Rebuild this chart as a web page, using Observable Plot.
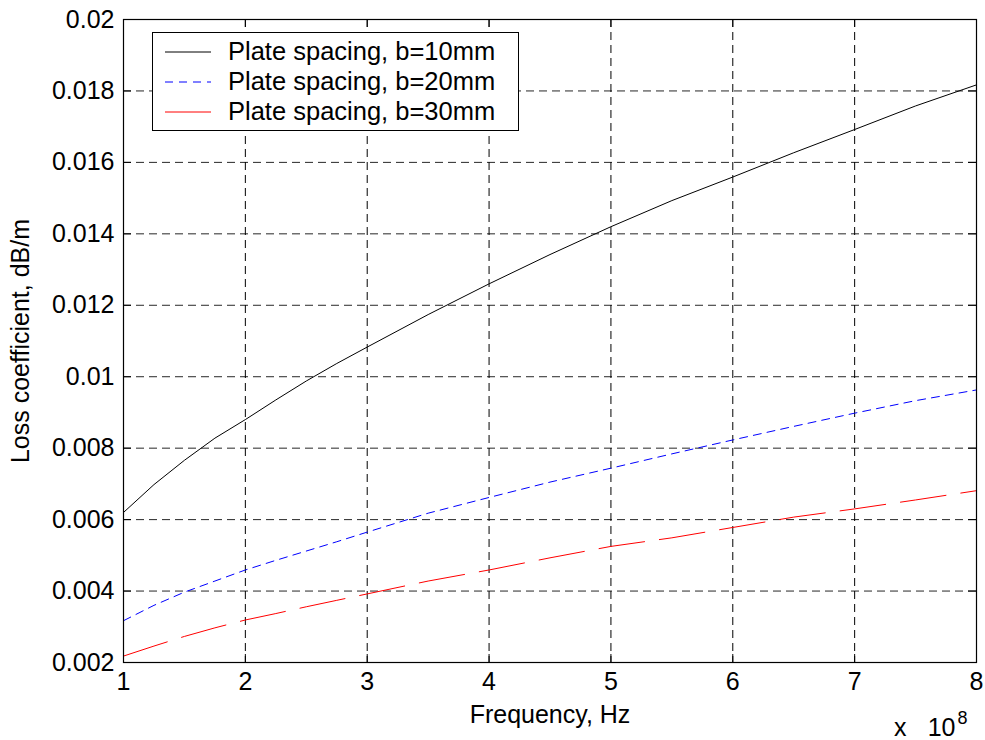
<!DOCTYPE html>
<html>
<head>
<meta charset="utf-8">
<script src="https://cdn.jsdelivr.net/npm/d3@7"></script>
<script src="https://cdn.jsdelivr.net/npm/@observablehq/plot@0.6"></script>
<style>
  html, body { margin: 0; padding: 0; background: #fff; }
  #wrap { position: relative; width: 985px; height: 740px; font-family: "Liberation Sans", Arial, sans-serif; }
  #legend { position: absolute; left: 152px; top: 32px; width: 365px; height: 97px; border: 1.5px solid #000; background: #fff; }
</style>
</head>
<body>
<div id="wrap"></div>
<script>
// Frequency (Hz, in units of 1e8)
const freq = [1, 1.25, 1.5, 1.75, 2, 2.25, 2.5, 2.75, 3, 3.5, 4, 4.5, 5, 5.5, 6, 6.5, 7, 7.5, 8];
// Loss coefficient, dB/m
const b10 = [0.0062, 0.00698, 0.00766, 0.00828, 0.0088, 0.00935, 0.00988, 0.01037, 0.01083, 0.01174, 0.0126, 0.01342, 0.0142, 0.01493, 0.01559, 0.01627, 0.01692, 0.01758, 0.01817];
const b20 = [0.00317, 0.0036, 0.00397, 0.00428, 0.00459, 0.00486, 0.00512, 0.00538, 0.00565, 0.00618, 0.00662, 0.00705, 0.00744, 0.00784, 0.00823, 0.00861, 0.00898, 0.00933, 0.00963];
const b30 = [0.00218, 0.00246, 0.00273, 0.00297, 0.00319, 0.00337, 0.00356, 0.00374, 0.00392, 0.00428, 0.00459, 0.00493, 0.00525, 0.00549, 0.00578, 0.00607, 0.0063, 0.00655, 0.00681];
const seriesNames = ["Plate spacing, b=10mm", "Plate spacing, b=20mm", "Plate spacing, b=30mm"];
const seriesColors = ["#000000", "#0000ff", "#ff0000"];
const seriesDash = [null, "8,6", "46,15"];
const xTicks = [1, 2, 3, 4, 5, 6, 7, 8];
const yTicks = [0.002, 0.004, 0.006, 0.008, 0.01, 0.012, 0.014, 0.016, 0.018, 0.02];
const xLabel = "Frequency, Hz";
const yLabel = "Loss coefficient, dB/m";
const exponentBase = ["x", "10"];
const exponent = "8";

const allSeries = [b10, b20, b30];
const rows = allSeries.flatMap((vals, i) => vals.map((v, j) => ({f: freq[j], v, s: i})));

const fontSize = 25;
const plotH = 740 - 19 - 78;
const plotW = 985 - 123 - 9;

const chart = Plot.plot({
  width: 985,
  height: 740,
  marginLeft: 123,
  marginRight: 9,
  marginTop: 19,
  marginBottom: 78,
  style: {fontFamily: "'Liberation Sans', Arial, sans-serif", fontSize: fontSize + "px", color: "#000", background: "#fff"},
  x: {domain: [1, 8]},
  y: {domain: [0.002, 0.02]},
  marks: [
    // inside ticks
    Plot.tickX(xTicks, {x: d => d, stroke: "#000", insetTop: plotH - 8}),
    Plot.tickX(xTicks, {x: d => d, stroke: "#000", insetBottom: plotH - 8}),
    Plot.tickY(yTicks, {y: d => d, stroke: "#000", insetRight: plotW - 8}),
    Plot.tickY(yTicks, {y: d => d, stroke: "#000", insetLeft: plotW - 8}),
    // grid
    Plot.gridX(xTicks.slice(1, -1), {stroke: "#000", strokeOpacity: 1, strokeDasharray: "8,5"}),
    Plot.gridY(yTicks.slice(1, -1), {stroke: "#000", strokeOpacity: 0.85, strokeDasharray: "8,5"}),
    // data lines
    ...allSeries.map((_, i) => Plot.line(rows.filter(d => d.s === i), {
      x: "f", y: "v", stroke: seriesColors[i], strokeWidth: 1, strokeDasharray: seriesDash[i], curve: "linear"
    })),
    Plot.frame({stroke: "#000", strokeWidth: 1.2}),
    Plot.axisX(xTicks, {anchor: "bottom", tickSize: 0, tickPadding: 10, label: null, tickFormat: d => String(d), fill: "#000"}),
    Plot.axisY(yTicks, {anchor: "left", tickSize: 0, tickPadding: 9, label: null, tickFormat: d => String(+d.toFixed(3)), fill: "#000"}),
    Plot.text([xLabel], {frameAnchor: "bottom", dy: 52, lineAnchor: "middle", textAnchor: "middle", fill: "#000"}),
    Plot.text([yLabel], {frameAnchor: "left", dx: -103, rotate: -90, lineAnchor: "middle", textAnchor: "middle", fill: "#000"}),
    Plot.text([exponentBase[0]], {frameAnchor: "bottom-right", dx: -70, dy: 65, lineAnchor: "middle", textAnchor: "end", fill: "#000"}),
    Plot.text([exponentBase[1]], {frameAnchor: "bottom-right", dx: -21, dy: 65, lineAnchor: "middle", textAnchor: "end", fill: "#000"}),
    Plot.text([exponent], {frameAnchor: "bottom-right", dx: -19, dy: 56, lineAnchor: "middle", textAnchor: "start", fontSize: 18, fill: "#000"})
  ]
});

const wrap = document.getElementById("wrap");
wrap.appendChild(chart);

// legend overlay
const legend = document.createElement("div");
legend.id = "legend";
const ns = "http://www.w3.org/2000/svg";
const lsvg = document.createElementNS(ns, "svg");
lsvg.setAttribute("width", 365);
lsvg.setAttribute("height", 97);
lsvg.style.display = "block";
seriesNames.forEach((name, i) => {
  const y = 19 + i * 30;
  const line = document.createElementNS(ns, "line");
  line.setAttribute("x1", 12); line.setAttribute("x2", 58);
  line.setAttribute("y1", y); line.setAttribute("y2", y);
  line.setAttribute("stroke", seriesColors[i]);
  line.setAttribute("stroke-width", 1);
  if (i === 1) line.setAttribute("stroke-dasharray", "8,6");
  lsvg.appendChild(line);
  const t = document.createElementNS(ns, "text");
  t.setAttribute("x", 75);
  t.setAttribute("y", y + 8);
  t.setAttribute("font-size", 25.5);
  t.setAttribute("font-family", "'Liberation Sans', Arial, sans-serif");
  t.setAttribute("fill", "#000");
  t.textContent = name;
  lsvg.appendChild(t);
});
legend.appendChild(lsvg);
wrap.appendChild(legend);
</script>
</body>
</html>
